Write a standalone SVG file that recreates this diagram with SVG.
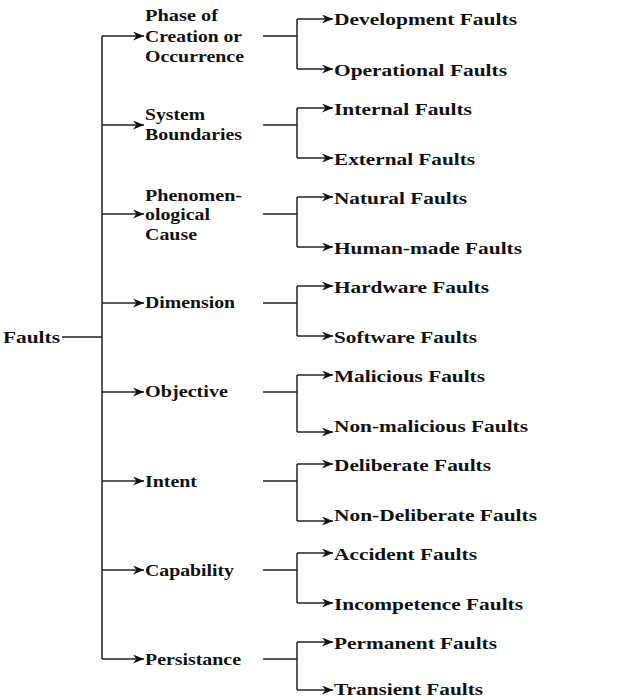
<svg xmlns="http://www.w3.org/2000/svg" width="640" height="700" viewBox="0 0 640 700">
<style>
text{font-family:"Liberation Serif","Times New Roman",serif;font-weight:bold;font-size:17.5px;fill:#111}
.ln{fill:none;stroke:#222;stroke-width:1.5}
.ar{fill:none;stroke:#222;stroke-width:1.5;marker-end:url(#ah)}
</style>
<defs>
<marker id="ah" markerUnits="userSpaceOnUse" markerWidth="12" markerHeight="9" refX="11" refY="4.5" orient="auto">
<path d="M0,0 L11,4.5 L0,9 L3.5,4.5 z" fill="#111"/>
</marker>
</defs>
<rect width="640" height="700" fill="#fff"/>
<g id="connectors">
<path class="ln" d="M62,337 H102 M102,36 V659"/>
<path class="ar" d="M102,36 H144"/>
<path class="ar" d="M102,125 H144"/>
<path class="ar" d="M102,214 H144"/>
<path class="ar" d="M102,303 H144"/>
<path class="ar" d="M102,392 H144"/>
<path class="ar" d="M102,481 H144"/>
<path class="ar" d="M102,570 H144"/>
<path class="ar" d="M102,659 H144"/>
<path class="ln" d="M263,36 H297 M297,19 V69"/>
<path class="ar" d="M297,19 H333"/><path class="ar" d="M297,69 H333"/>
<path class="ln" d="M263,125 H297 M297,108 V158"/>
<path class="ar" d="M297,108 H333"/><path class="ar" d="M297,158 H333"/>
<path class="ln" d="M263,214 H297 M297,197 V247"/>
<path class="ar" d="M297,197 H333"/><path class="ar" d="M297,247 H333"/>
<path class="ln" d="M263,303 H297 M297,286 V336"/>
<path class="ar" d="M297,286 H333"/><path class="ar" d="M297,336 H333"/>
<path class="ln" d="M263,392 H297 M297,375 V432"/>
<path class="ar" d="M297,375 H333"/><path class="ar" d="M297,432 H333"/>
<path class="ln" d="M263,481 H297 M297,464 V521"/>
<path class="ar" d="M297,464 H333"/><path class="ar" d="M297,521 H333"/>
<path class="ln" d="M263,570 H297 M297,553 V603"/>
<path class="ar" d="M297,553 H333"/><path class="ar" d="M297,603 H333"/>
<path class="ln" d="M263,659 H297 M297,642 V690"/>
<path class="ar" d="M297,642 H333"/><path class="ar" d="M297,690 H333"/>
</g>
<g id="root"><text x="3" y="343" textLength="57" lengthAdjust="spacingAndGlyphs">Faults</text></g>
<g id="cat-phase">
<text x="145" y="21" textLength="73" lengthAdjust="spacingAndGlyphs">Phase of</text>
<text x="145" y="42" textLength="97" lengthAdjust="spacingAndGlyphs">Creation or</text>
<text x="145" y="62" textLength="99" lengthAdjust="spacingAndGlyphs">Occurrence</text>
</g>
<g id="cat-system">
<text x="145" y="120" textLength="60" lengthAdjust="spacingAndGlyphs">System</text>
<text x="145" y="140" textLength="97" lengthAdjust="spacingAndGlyphs">Boundaries</text>
</g>
<g id="cat-phenom">
<text x="145" y="201" textLength="97" lengthAdjust="spacingAndGlyphs">Phenomen-</text>
<text x="145" y="220" textLength="65" lengthAdjust="spacingAndGlyphs">ological</text>
<text x="145" y="240" textLength="52" lengthAdjust="spacingAndGlyphs">Cause</text>
</g>
<g id="cat-dimension"><text x="145" y="308" textLength="90" lengthAdjust="spacingAndGlyphs">Dimension</text></g>
<g id="cat-objective"><text x="145" y="397" textLength="83" lengthAdjust="spacingAndGlyphs">Objective</text></g>
<g id="cat-intent"><text x="145" y="487" textLength="52" lengthAdjust="spacingAndGlyphs">Intent</text></g>
<g id="cat-capability"><text x="145" y="576" textLength="89" lengthAdjust="spacingAndGlyphs">Capability</text></g>
<g id="cat-persistance"><text x="145" y="665" textLength="96" lengthAdjust="spacingAndGlyphs">Persistance</text></g>
<g id="leaf-development"><text x="334" y="25" textLength="183" lengthAdjust="spacingAndGlyphs">Development Faults</text></g>
<g id="leaf-operational"><text x="334" y="76" textLength="173" lengthAdjust="spacingAndGlyphs">Operational Faults</text></g>
<g id="leaf-internal"><text x="334" y="115" textLength="138" lengthAdjust="spacingAndGlyphs">Internal Faults</text></g>
<g id="leaf-external"><text x="334" y="165" textLength="141" lengthAdjust="spacingAndGlyphs">External Faults</text></g>
<g id="leaf-natural"><text x="334" y="204" textLength="133" lengthAdjust="spacingAndGlyphs">Natural Faults</text></g>
<g id="leaf-humanmade"><text x="334" y="254" textLength="188" lengthAdjust="spacingAndGlyphs">Human-made Faults</text></g>
<g id="leaf-hardware"><text x="334" y="293" textLength="155" lengthAdjust="spacingAndGlyphs">Hardware Faults</text></g>
<g id="leaf-software"><text x="334" y="343" textLength="143" lengthAdjust="spacingAndGlyphs">Software Faults</text></g>
<g id="leaf-malicious"><text x="334" y="382" textLength="151" lengthAdjust="spacingAndGlyphs">Malicious Faults</text></g>
<g id="leaf-nonmalicious"><text x="334" y="432" textLength="194" lengthAdjust="spacingAndGlyphs">Non-malicious Faults</text></g>
<g id="leaf-deliberate"><text x="334" y="471" textLength="157" lengthAdjust="spacingAndGlyphs">Deliberate Faults</text></g>
<g id="leaf-nondeliberate"><text x="334" y="521" textLength="203" lengthAdjust="spacingAndGlyphs">Non-Deliberate Faults</text></g>
<g id="leaf-accident"><text x="334" y="560" textLength="143" lengthAdjust="spacingAndGlyphs">Accident Faults</text></g>
<g id="leaf-incompetence"><text x="334" y="610" textLength="189" lengthAdjust="spacingAndGlyphs">Incompetence Faults</text></g>
<g id="leaf-permanent"><text x="334" y="649" textLength="163" lengthAdjust="spacingAndGlyphs">Permanent Faults</text></g>
<g id="leaf-transient"><text x="334" y="695" textLength="149" lengthAdjust="spacingAndGlyphs">Transient Faults</text></g>
</svg>
